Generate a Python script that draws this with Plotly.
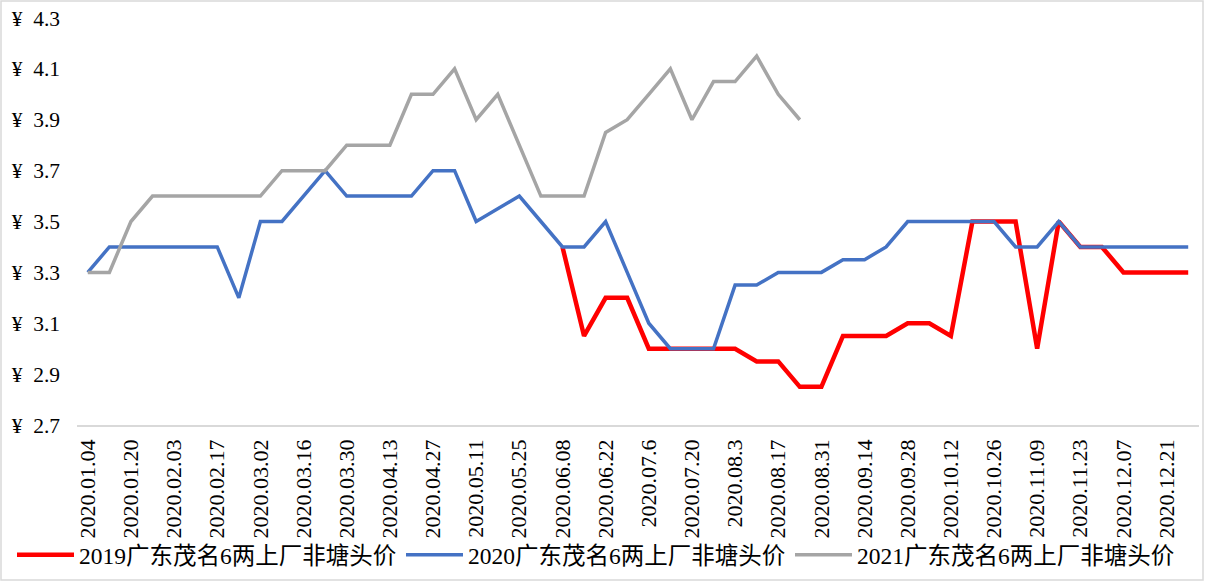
import plotly.graph_objects as go

dates = ["2020.01.04", "2020.01.12", "2020.01.20", "2020.01.27", "2020.02.03", "2020.02.10",
         "2020.02.17", "2020.02.24", "2020.03.02", "2020.03.09", "2020.03.16", "2020.03.23",
         "2020.03.30", "2020.04.06", "2020.04.13", "2020.04.20", "2020.04.27", "2020.05.04",
         "2020.05.11", "2020.05.18", "2020.05.25", "2020.06.01", "2020.06.08", "2020.06.15",
         "2020.06.22", "2020.06.29", "2020.07.6", "2020.07.13", "2020.07.20", "2020.07.27",
         "2020.08.3", "2020.08.10", "2020.08.17", "2020.08.24", "2020.08.31", "2020.09.07",
         "2020.09.14", "2020.09.21", "2020.09.28", "2020.10.05", "2020.10.12", "2020.10.19",
         "2020.10.26", "2020.11.02", "2020.11.09", "2020.11.16", "2020.11.23", "2020.11.30",
         "2020.12.07", "2020.12.14", "2020.12.21", "2020.12.28"]

price_2019 = [None] * 22 + [3.4, 3.05, 3.2, 3.2, 3.0, 3.0, 3.0, 3.0, 3.0, 2.95, 2.95, 2.85,
                            2.85, 3.05, 3.05, 3.05, 3.1, 3.1, 3.05, 3.5, 3.5, 3.5, 3.0, 3.5,
                            3.4, 3.4, 3.3, 3.3, 3.3, 3.3]

price_2020 = [3.3, 3.4, 3.4, 3.4, 3.4, 3.4, 3.4, 3.2, 3.5, 3.5, 3.6, 3.7, 3.6, 3.6, 3.6, 3.6,
              3.7, 3.7, 3.5, 3.55, 3.6, 3.5, 3.4, 3.4, 3.5, 3.3, 3.1, 3.0, 3.0, 3.0, 3.25,
              3.25, 3.3, 3.3, 3.3, 3.35, 3.35, 3.4, 3.5, 3.5, 3.5, 3.5, 3.5, 3.4, 3.4, 3.5,
              3.4, 3.4, 3.4, 3.4, 3.4, 3.4]

price_2021 = [3.3, 3.3, 3.5, 3.6, 3.6, 3.6, 3.6, 3.6, 3.6, 3.7, 3.7, 3.7, 3.8, 3.8, 3.8, 4.0,
              4.0, 4.1, 3.9, 4.0, 3.8, 3.6, 3.6, 3.6, 3.85, 3.9, 4.0, 4.1, 3.9, 4.05, 4.05,
              4.15, 4.0, 3.9] + [None] * 18

names = ["2019广东茂名6两上厂非塘头价", "2020广东茂名6两上厂非塘头价", "2021广东茂名6两上厂非塘头价"]
colors = ["#FF0000", "#4472C4", "#A5A5A5"]
widths = [4.5, 3.5, 3.5]
series = [price_2019, price_2020, price_2021]

FONT = "'Liberation Serif', 'Times New Roman', 'Noto Sans CJK SC', serif"

fig = go.Figure()
for n, c, w, s in zip(names, colors, widths, series):
    fig.add_trace(go.Scatter(x=dates, y=s, name=n, mode="lines",
                             line=dict(color=c, width=w), connectgaps=False))

W, H = 1205, 582
ml, mr, mt, mb = 77, 6, 18, 157
pw, ph = W - ml - mr, H - mt - mb

fig.update_layout(
    width=W, height=H,
    margin=dict(l=ml, r=mr, t=mt, b=mb, autoexpand=False),
    paper_bgcolor="white", plot_bgcolor="white",
    font=dict(family=FONT, size=21.5, color="#000000"),
    showlegend=True,
    legend=dict(orientation="h", x=(12 - ml) / pw, xanchor="left",
                y=(425 - 555) / ph, yanchor="middle", font=dict(size=23.5),
                itemwidth=57, entrywidth=317, entrywidthmode="pixels",
                tracegroupgap=0, bgcolor="rgba(0,0,0,0)"),
    xaxis=dict(type="category", tickmode="array", tickvals=dates[::2], ticktext=dates[::2],
               tickangle=-90, showgrid=False, showline=True, linecolor="#D9D9D9",
               linewidth=1.5, ticks="", zeroline=False, tickfont=dict(size=22),
               ticklabelstandoff=4,
               range=[-0.5, len(dates) - 0.5], automargin=False),
    yaxis=dict(range=[2.7, 4.3], dtick=0.2, tick0=2.7, tickformat=".1f", tickprefix="¥\u2002",
               showgrid=False, showline=False, zeroline=False, ticks="",
               ticklabelstandoff=16, tickfont=dict(size=21.5), automargin=False),
    shapes=[dict(type="rect", xref="paper", yref="paper",
                 x0=(1 - ml) / pw, x1=(W - 2 - ml) / pw,
                 y0=-(H - 2 - (H - mb)) / ph, y1=(H - mb - 1) / ph,
                 line=dict(color="#D9D9D9", width=1.5), fillcolor="rgba(0,0,0,0)",
                 layer="below")],
)

fig.write_html("out.html", config={"displayModeBar": False},
               post_script="document.body.style.margin='0';")
